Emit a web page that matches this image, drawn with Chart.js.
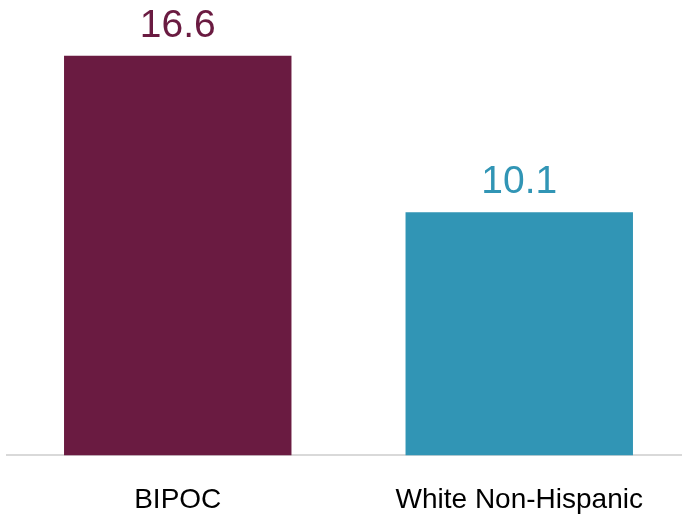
<!DOCTYPE html>
<html>
<head>
<meta charset="utf-8">
<script src="https://cdn.jsdelivr.net/npm/chart.js@4"></script>
<style>
  html, body { margin: 0; padding: 0; background: #fff; overflow: hidden; }
  canvas { display: block; }
</style>
</head>
<body>
<canvas id="myChart" width="690" height="514"></canvas>
<script>
const categories = ["BIPOC", "White Non-Hispanic"];
const values = [16.6, 10.1];
const barColors = ["#6a1b41", "#3195b5"];

// draw the value above each bar
const valueLabels = {
    id: 'valueLabels',
    afterDatasetsDraw(chart) {
        const ctx = chart.ctx;
        const meta = chart.getDatasetMeta(0);
        ctx.save();
        ctx.font = '39px "Liberation Sans", Arial, sans-serif';
        ctx.textAlign = 'center';
        ctx.textBaseline = 'alphabetic';
        meta.data.forEach((bar, i) => {
            ctx.fillStyle = barColors[i];
            ctx.fillText(values[i].toFixed(1), bar.x, bar.y - 19);
        });
        ctx.restore();
    }
};

new Chart(document.getElementById("myChart"), {
    type: 'bar',
    data: {
        labels: categories,
        datasets: [{
            data: values,
            backgroundColor: barColors,
            borderWidth: 0,
            barPercentage: 0.666,
            categoryPercentage: 1
        }]
    },
    options: {
        responsive: false,
        animation: false,
        layout: { padding: { top: 22, left: 7, right: 0, bottom: -31 } },
        plugins: {
            legend: { display: false },
            tooltip: { enabled: false }
        },
        scales: {
            x: {
                grid: { display: false, drawTicks: false },
                border: { display: true, color: '#d9d9d9', width: 2 },
                ticks: {
                    color: '#000',
                    padding: 28,
                    font: { size: 28, family: '"Liberation Sans Narrow", "Liberation Sans", Arial, sans-serif' }
                }
            },
            y: {
                display: false,
                min: 0,
                max: 18
            }
        }
    },
    plugins: [valueLabels]
});
</script>
</body>
</html>
